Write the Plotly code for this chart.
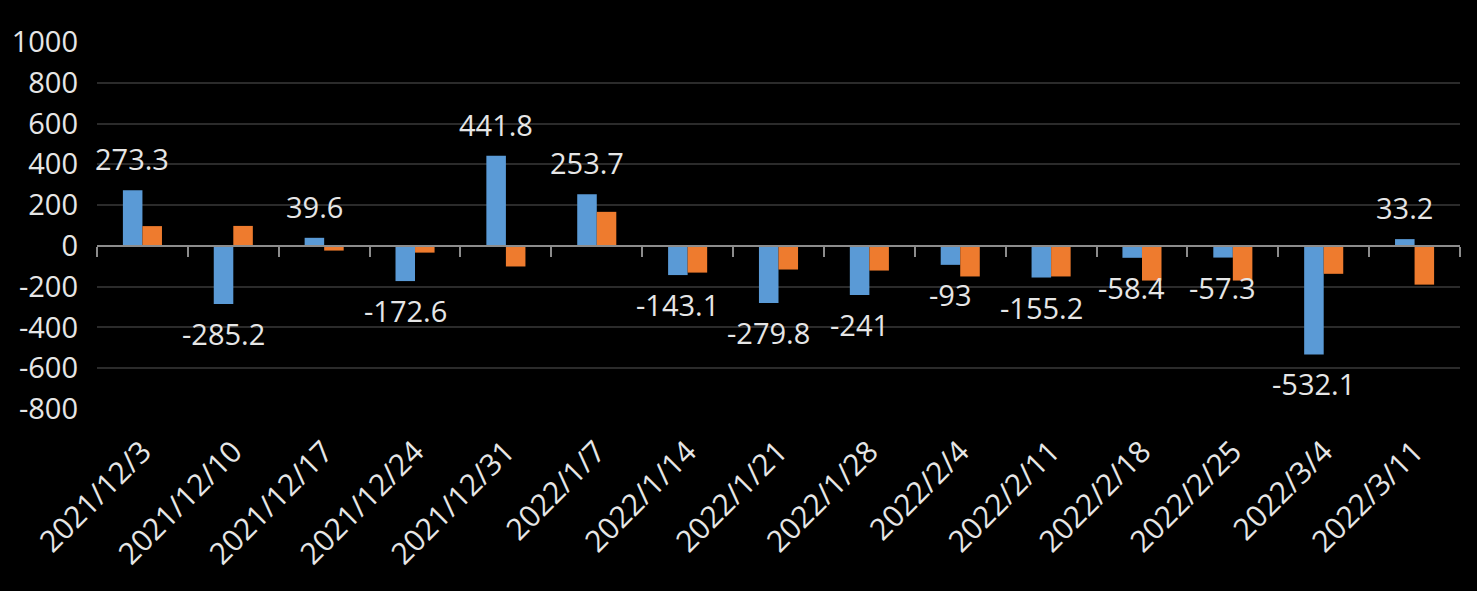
import plotly.graph_objects as go

categories = ["2021/12/3", "2021/12/10", "2021/12/17", "2021/12/24", "2021/12/31",
              "2022/1/7", "2022/1/14", "2022/1/21", "2022/1/28", "2022/2/4",
              "2022/2/11", "2022/2/18", "2022/2/25", "2022/3/4", "2022/3/11"]
series_blue = [273.3, -285.2, 39.6, -172.6, 441.8, 253.7, -143.1, -279.8, -241,
               -93, -155.2, -58.4, -57.3, -532.1, 33.2]
series_orange = [97, 98, -23, -33, -101, 167, -131, -116, -121, -150, -150,
                 -170, -170, -137, -190]
y_ticks = [-800, -600, -400, -200, 0, 200, 400, 600, 800, 1000]
y_ticktext = [str(v) for v in y_ticks]

FONT = "Open Sans"
TXT = "#e6e6e6"
BLUE = "#5a9ad6"
ORANGE = "#ee7b2e"

fig = go.Figure()
fig.add_trace(go.Bar(x=categories, y=series_blue, marker=dict(color=BLUE, line=dict(width=0)),
                     name="A", hoverinfo="x+y"))
fig.add_trace(go.Bar(x=categories, y=series_orange, marker=dict(color=ORANGE, line=dict(width=0)),
                     name="B", hoverinfo="x+y"))
# helper trace for the axis line with boundary ticks at zero
fig.add_trace(go.Scatter(x=categories, y=[0] * len(categories), mode="none", xaxis="x2",
                         showlegend=False, hoverinfo="skip"))

for c, v in zip(categories, series_blue):
    fig.add_annotation(x=c, y=v, text=str(v), showarrow=False, xshift=-10,
                       yanchor="bottom" if v >= 0 else "top",
                       yshift=10 if v >= 0 else -8,
                       font=dict(family=FONT, size=29, color=TXT))

yr = [min(y_ticks), max(y_ticks)]
zero_pos = (0 - yr[0]) / (yr[1] - yr[0])

fig.update_layout(
    width=1477, height=591,
    paper_bgcolor="black", plot_bgcolor="black",
    margin=dict(l=97, r=17, t=42, b=182),
    barmode="group", bargap=0.57, bargroupgap=0,
    showlegend=False,
    font=dict(family=FONT, size=29, color=TXT),
    xaxis=dict(type="category", categoryorder="array", categoryarray=categories,
               range=[-0.5, len(categories) - 0.5],
               tickangle=-45, showgrid=False, showline=False, ticks="",
               ticklabelstandoff=18,
               tickfont=dict(family=FONT, size=30, color=TXT)),
    xaxis2=dict(type="category", categoryorder="array", categoryarray=categories,
                range=[-0.5, len(categories) - 0.5], overlaying="x", anchor="free",
                position=zero_pos, side="bottom", showticklabels=False,
                showline=True, linecolor="#8c8c8c", linewidth=2,
                ticks="outside", tickson="boundaries", ticklen=10, tickwidth=2,
                tickcolor="#8c8c8c", showgrid=False),
    yaxis=dict(range=yr, tickvals=y_ticks, ticktext=y_ticktext,
               showgrid=True, gridcolor="#2b2b2b", gridwidth=2,
               zeroline=False, showline=False, ticks="", ticklabelstandoff=18,
               tickfont=dict(family=FONT, size=29, color=TXT)),
)

fig.write_html("out.html", config={"displayModeBar": False},
               post_script="document.body.style.margin='0';document.body.style.background='black';"
                           "document.documentElement.style.background='black';")
